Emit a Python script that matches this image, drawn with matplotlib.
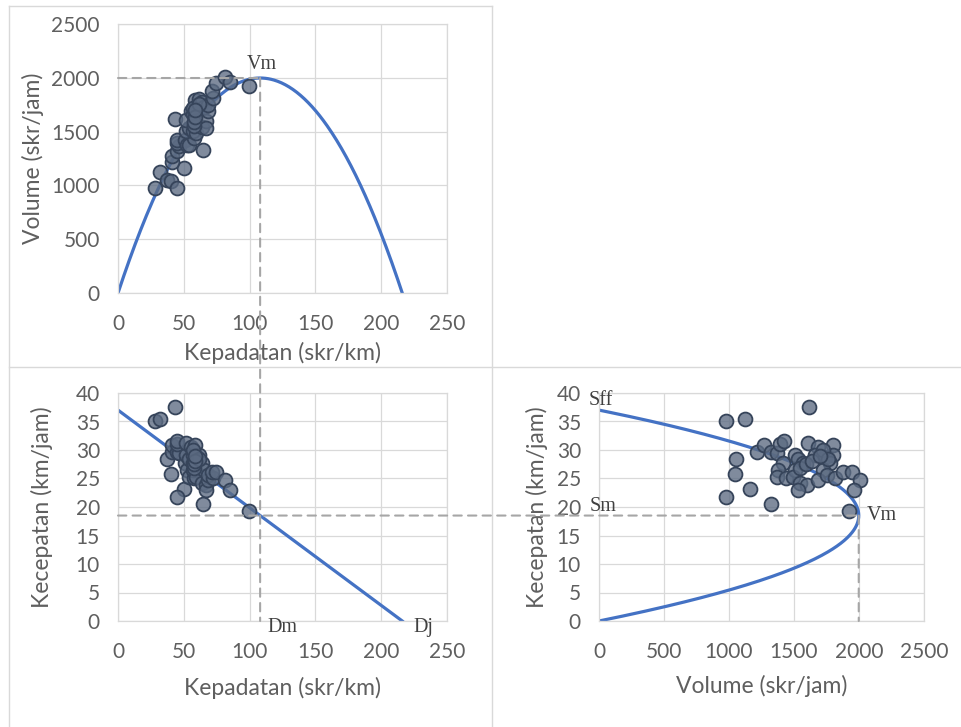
import matplotlib
matplotlib.use("Agg")
import matplotlib.pyplot as plt
from matplotlib.lines import Line2D
from matplotlib.patches import ConnectionPatch
import numpy as np

# data observasi
kecepatan = [37.5, 35.0, 35.4, 28.4, 25.8, 23.2, 21.7, 20.6, 19.3, 29.6,
             30.9, 29.7, 29.4, 31.0, 31.5, 27.7, 26.5, 25.3, 25.0, 29.1,
             28.5, 27.7, 26.5, 25.3, 24.2, 23.9, 23.0, 31.2, 30.6, 29.1,
             28.8, 30.8, 29.2, 27.7, 26.5, 24.7, 25.6, 25.1, 26.1, 26.2,
             24.7, 23.0, 26.8, 27.5, 30.0, 28.5, 28.0, 29.0]
volume = [1615, 979, 1121, 1051, 1044, 1159, 979, 1326, 1921, 1213,
          1272, 1323, 1367, 1392, 1423, 1418, 1380, 1372, 1438, 1508,
          1533, 1572, 1508, 1490, 1546, 1598, 1533, 1610, 1687, 1662,
          1738, 1798, 1802, 1777, 1725, 1687, 1751, 1815, 1874, 1949,
          2008, 1964, 1550, 1590, 1720, 1760, 1640, 1700]
kepadatan = [43.1, 28.0, 31.7, 37.0, 40.5, 50.0, 45.1, 64.4, 99.5, 41.0,
             41.2, 44.5, 46.5, 44.9, 45.2, 51.2, 52.1, 54.2, 57.5, 51.8,
             53.8, 56.8, 56.9, 58.9, 63.9, 66.9, 66.7, 51.6, 55.1, 57.1,
             60.3, 58.4, 61.7, 64.2, 65.1, 68.3, 68.4, 72.3, 71.8, 74.4,
             81.3, 85.4, 57.8, 57.8, 57.3, 61.8, 58.6, 58.6]

# parameter model Greenshields
Sff = 37.0
Dj = 216.0
Dm = Dj / 2
Sm = Sff / 2
Vm = Sff * Dj / 4

W, H = 962, 727
fig = plt.figure(figsize=(W / 100, H / 100), dpi=100)
plt.rcParams['font.family'] = ['Lato', 'DejaVu Sans']

abu = '#5F5F5F'
grid_c = '#D9D9D9'
biru = '#4472C4'
titik_face = (0.36, 0.42, 0.51, 0.78)
titik_edge = '#36445A'
garis_putus = '#A6A6A6'


def fx(px):
    return px / W


def fy(py):
    return 1 - py / H


def gaya(ax, xmax, xstep, ymax, ystep):
    ax.set_xlim(0, xmax)
    ax.set_ylim(0, ymax)
    ax.set_xticks(np.arange(0, xmax + 1, xstep))
    ax.set_yticks(np.arange(0, ymax + 1, ystep))
    ax.grid(True, color=grid_c, linewidth=0.9)
    ax.set_axisbelow(True)
    for s in ax.spines.values():
        s.set_color(grid_c)
        s.set_linewidth(0.9)
    ax.tick_params(length=0, labelsize=15, colors=abu, pad=13)
    ax.tick_params(axis='x', pad=15)


# bingkai chart
kotak = [((9, 6), (492, 6)), ((9, 6), (9, 727)), ((492, 6), (492, 727)),
         ((9, 367), (962, 367))]
for (x0, y0), (x1, y1) in kotak:
    fig.add_artist(Line2D([fx(x0), fx(x1)], [fy(y0), fy(y1)],
                          color=grid_c, linewidth=1.0))

ax1 = fig.add_axes([fx(118), fy(293), fx(447) - fx(118), fy(24) - fy(293)])
ax2 = fig.add_axes([fx(118), fy(621), fx(447) - fx(118), fy(393) - fy(621)])
ax3 = fig.add_axes([fx(599), fy(621), fx(924) - fx(599), fy(393) - fy(621)])

gaya(ax1, 250, 50, 2500, 500)
gaya(ax2, 250, 50, 40, 5)
gaya(ax3, 2500, 500, 40, 5)

d = np.linspace(0, Dj, 300)
s = np.linspace(0, Sff, 300)

# Volume - Kepadatan
ax1.plot(d, Sff * d * (1 - d / Dj), color=biru, linewidth=2.3, zorder=2)
ax1.scatter(kepadatan, volume, s=100, facecolor=titik_face,
            edgecolor=titik_edge, linewidth=1.3, zorder=3)
ax1.set_xlabel('Kepadatan (skr/km)', fontsize=16.5, color=abu)
ax1.set_ylabel('Volume (skr/jam)', fontsize=16.5, color=abu)
ax1.xaxis.set_label_coords(0.5, -0.182)
ax1.yaxis.set_label_coords(-0.225, 0.5)

# Kecepatan - Kepadatan
ax2.plot(d, Sff * (1 - d / Dj), color=biru, linewidth=2.3, zorder=2)
ax2.scatter(kepadatan, kecepatan, s=100, facecolor=titik_face,
            edgecolor=titik_edge, linewidth=1.3, zorder=3)
ax2.set_xlabel('Kepadatan (skr/km)', fontsize=16.5, color=abu)
ax2.set_ylabel('Kecepatan (km/jam)', fontsize=16.5, color=abu)
ax2.xaxis.set_label_coords(0.5, -0.246)
ax2.yaxis.set_label_coords(-0.198, 0.5)

# Kecepatan - Volume
ax3.plot(Dj * s * (1 - s / Sff), s, color=biru, linewidth=2.3, zorder=2)
ax3.scatter(volume, kecepatan, s=100, facecolor=titik_face,
            edgecolor=titik_edge, linewidth=1.3, zorder=3)
ax3.set_xlabel('Volume (skr/jam)', fontsize=16.5, color=abu)
ax3.set_ylabel('Kecepatan (km/jam)', fontsize=16.5, color=abu)
ax3.xaxis.set_label_coords(0.5, -0.237)
ax3.yaxis.set_label_coords(-0.157, 0.5)

# garis putus-putus penghubung
kw = dict(color=garis_putus, linewidth=1.5, linestyle=(0, (4, 3)), zorder=5)
sambung = [
    ((0, Vm), ax1, (Dm, Vm), ax1),
    ((Dm, Vm), ax1, (Dm, 0), ax2),
    ((0, Sm), ax2, (Vm, Sm), ax3),
    ((Vm, Sm), ax3, (Vm, 0), ax3),
]
for a, axa, b, axb in sambung:
    cp = ConnectionPatch(xyA=a, coordsA=axa.transData, xyB=b, coordsB=axb.transData,
                         **kw)
    fig.add_artist(cp)

# label titik penting
serif = dict(family=['Liberation Serif', 'DejaVu Serif'], fontsize=14.5, color='#404040')
ax1.annotate('Vm', xy=(Dm, Vm), xytext=(1, 3), textcoords='offset points',
             ha='center', va='bottom', annotation_clip=False, **serif)
ax2.annotate('Dm', xy=(Dm, 0), xytext=(5, -5), textcoords='offset points',
             ha='left', va='center', annotation_clip=False, **serif)
ax2.annotate('Dj', xy=(Dj, 0), xytext=(8, -5), textcoords='offset points',
             ha='left', va='center', annotation_clip=False, **serif)
ax3.annotate('Sff', xy=(0, Sff), xytext=(1, 0), textcoords='offset points',
             ha='center', va='bottom', annotation_clip=False, **serif)
ax3.annotate('Sm', xy=(0, Sm), xytext=(3, 0), textcoords='offset points',
             ha='center', va='bottom', annotation_clip=False, **serif)
ax3.annotate('Vm', xy=(Vm, Sm), xytext=(6, 0), textcoords='offset points',
             ha='left', va='center', annotation_clip=False, **serif)

fig.savefig('out.png', dpi=100)
